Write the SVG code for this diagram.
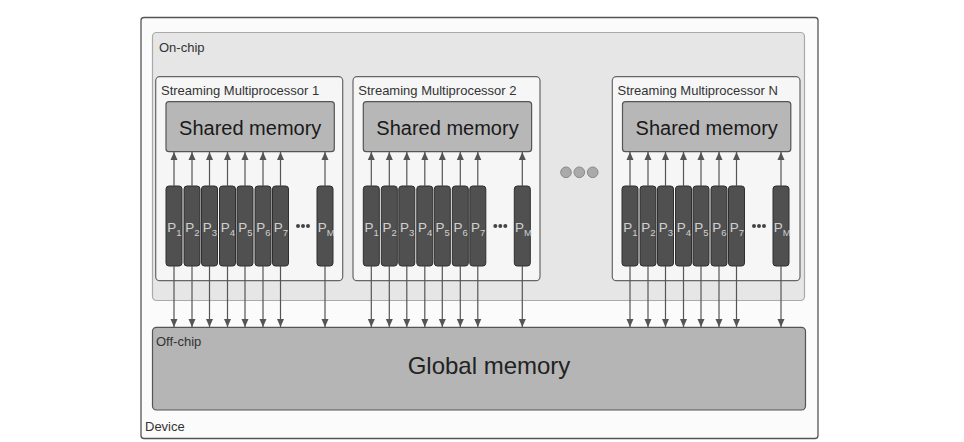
<svg xmlns="http://www.w3.org/2000/svg" width="964" height="442" viewBox="0 0 964 442">
<defs>
<style>
text{font-family:"Liberation Sans",Arial,sans-serif;fill:#222}
.lbl{font-size:13px;fill:#333}
.big{font-size:20px;fill:#1a1a1a}
.sm{fill:#f6f6f6;stroke:#666;stroke-width:1.2}
.shm{fill:#b7b7b7;stroke:#555;stroke-width:1.2}
.pr{fill:#505050;stroke:#2e2e2e;stroke-width:1}
.pt{font-size:13.5px;fill:#d0d0d0}
.ps{font-size:9.5px;fill:#d0d0d0}
.cn{stroke:#555;stroke-width:1.2;fill:none}
.dot{fill:#444}
</style>
<marker id="ah" viewBox="0 0 8 8" refX="8" refY="4" markerWidth="8" markerHeight="8" markerUnits="userSpaceOnUse" orient="auto">
<path d="M0,0.5 L8,4 L0,7.5 z" fill="#555"/>
</marker>
<g id="procs">
<rect class="pr" x="166" y="186" width="16" height="80" rx="3"/>
<rect class="pr" x="184" y="186" width="16" height="80" rx="3"/>
<rect class="pr" x="201.5" y="186" width="16" height="80" rx="3"/>
<rect class="pr" x="219.5" y="186" width="16" height="80" rx="3"/>
<rect class="pr" x="237" y="186" width="16" height="80" rx="3"/>
<rect class="pr" x="255" y="186" width="16" height="80" rx="3"/>
<rect class="pr" x="272.5" y="186" width="16" height="80" rx="3"/>
<rect class="pr" x="317" y="186" width="16" height="80" rx="3"/>
<text class="pt" x="167.3" y="231.5">P<tspan class="ps" dy="4">1</tspan></text>
<text class="pt" x="185.3" y="231.5">P<tspan class="ps" dy="4">2</tspan></text>
<text class="pt" x="202.8" y="231.5">P<tspan class="ps" dy="4">3</tspan></text>
<text class="pt" x="220.8" y="231.5">P<tspan class="ps" dy="4">4</tspan></text>
<text class="pt" x="238.3" y="231.5">P<tspan class="ps" dy="4">5</tspan></text>
<text class="pt" x="256.3" y="231.5">P<tspan class="ps" dy="4">6</tspan></text>
<text class="pt" x="273.8" y="231.5">P<tspan class="ps" dy="4">7</tspan></text>
<text class="pt" x="317.8" y="231.5">P<tspan class="ps" dy="4" font-size="8.5">M</tspan></text>
<circle class="dot" cx="298" cy="226" r="2"/>
<circle class="dot" cx="303" cy="226" r="2"/>
<circle class="dot" cx="308" cy="226" r="2"/>
</g>
</defs>

<g id="device">
<rect x="141" y="17.5" width="677" height="421" rx="3" fill="#fbfbfb" stroke="#555" stroke-width="1.3"/>
<text class="lbl" x="145" y="431">Device</text>
</g>

<g id="on-chip">
<rect x="152.5" y="32.5" width="652" height="268" rx="4" fill="#e6e6e6" stroke="#aaa" stroke-width="1.2"/>
<text class="lbl" x="159" y="52">On-chip</text>
</g>

<g id="sm1">
<rect class="sm" x="155.7" y="76.7" width="187" height="204" rx="4"/>
<text class="lbl" x="161" y="95">Streaming Multiprocessor 1</text>
<rect class="shm" x="166" y="101.7" width="168.3" height="50" rx="3"/>
<text class="big" x="250.2" y="135" text-anchor="middle">Shared memory</text>
<use href="#procs"/>
</g>

<g id="sm2">
<rect class="sm" x="353" y="76.7" width="187" height="204" rx="4"/>
<text class="lbl" x="358.3" y="95">Streaming Multiprocessor 2</text>
<rect class="shm" x="363.3" y="101.7" width="168.3" height="50" rx="3"/>
<text class="big" x="447.5" y="135" text-anchor="middle">Shared memory</text>
<use href="#procs" transform="translate(197.3,0)"/>
</g>

<g id="sm-dots">
<circle cx="566" cy="172.3" r="5.3" fill="#aaa" stroke="#888" stroke-width="1"/>
<circle cx="579.3" cy="172.3" r="5.3" fill="#aaa" stroke="#888" stroke-width="1"/>
<circle cx="592.7" cy="172.3" r="5.3" fill="#aaa" stroke="#888" stroke-width="1"/>
</g>

<g id="smN">
<rect class="sm" x="612.3" y="76.7" width="187.7" height="204" rx="4"/>
<text class="lbl" x="617.5" y="95">Streaming Multiprocessor N</text>
<rect class="shm" x="622.5" y="101.7" width="168.3" height="50" rx="3"/>
<text class="big" x="706.7" y="135" text-anchor="middle">Shared memory</text>
<use href="#procs" transform="translate(456,0)"/>
</g>

<g id="global-memory">
<rect x="152.5" y="327.3" width="653" height="82.7" rx="4" fill="#b5b5b5" stroke="#555" stroke-width="1.2"/>
<text class="lbl" x="156" y="346">Off-chip</text>
<text x="489" y="374" text-anchor="middle" font-size="24" fill="#1a1a1a">Global memory</text>
</g>

<g id="connectors">
<path class="cn" d="M174,186V152" marker-end="url(#ah)"/>
<path class="cn" d="M192,186V152" marker-end="url(#ah)"/>
<path class="cn" d="M209.5,186V152" marker-end="url(#ah)"/>
<path class="cn" d="M227.5,186V152" marker-end="url(#ah)"/>
<path class="cn" d="M245,186V152" marker-end="url(#ah)"/>
<path class="cn" d="M263,186V152" marker-end="url(#ah)"/>
<path class="cn" d="M280.5,186V152" marker-end="url(#ah)"/>
<path class="cn" d="M325,186V152" marker-end="url(#ah)"/>
<path class="cn" d="M371.3,186V152" marker-end="url(#ah)"/>
<path class="cn" d="M389.3,186V152" marker-end="url(#ah)"/>
<path class="cn" d="M406.8,186V152" marker-end="url(#ah)"/>
<path class="cn" d="M424.8,186V152" marker-end="url(#ah)"/>
<path class="cn" d="M442.3,186V152" marker-end="url(#ah)"/>
<path class="cn" d="M460.3,186V152" marker-end="url(#ah)"/>
<path class="cn" d="M477.8,186V152" marker-end="url(#ah)"/>
<path class="cn" d="M522.3,186V152" marker-end="url(#ah)"/>
<path class="cn" d="M630,186V152" marker-end="url(#ah)"/>
<path class="cn" d="M648,186V152" marker-end="url(#ah)"/>
<path class="cn" d="M665.5,186V152" marker-end="url(#ah)"/>
<path class="cn" d="M683.5,186V152" marker-end="url(#ah)"/>
<path class="cn" d="M701,186V152" marker-end="url(#ah)"/>
<path class="cn" d="M719,186V152" marker-end="url(#ah)"/>
<path class="cn" d="M736.5,186V152" marker-end="url(#ah)"/>
<path class="cn" d="M781,186V152" marker-end="url(#ah)"/>
<path class="cn" d="M174,266V327" marker-end="url(#ah)"/>
<path class="cn" d="M192,266V327" marker-end="url(#ah)"/>
<path class="cn" d="M209.5,266V327" marker-end="url(#ah)"/>
<path class="cn" d="M227.5,266V327" marker-end="url(#ah)"/>
<path class="cn" d="M245,266V327" marker-end="url(#ah)"/>
<path class="cn" d="M263,266V327" marker-end="url(#ah)"/>
<path class="cn" d="M280.5,266V327" marker-end="url(#ah)"/>
<path class="cn" d="M325,266V327" marker-end="url(#ah)"/>
<path class="cn" d="M371.3,266V327" marker-end="url(#ah)"/>
<path class="cn" d="M389.3,266V327" marker-end="url(#ah)"/>
<path class="cn" d="M406.8,266V327" marker-end="url(#ah)"/>
<path class="cn" d="M424.8,266V327" marker-end="url(#ah)"/>
<path class="cn" d="M442.3,266V327" marker-end="url(#ah)"/>
<path class="cn" d="M460.3,266V327" marker-end="url(#ah)"/>
<path class="cn" d="M477.8,266V327" marker-end="url(#ah)"/>
<path class="cn" d="M522.3,266V327" marker-end="url(#ah)"/>
<path class="cn" d="M630,266V327" marker-end="url(#ah)"/>
<path class="cn" d="M648,266V327" marker-end="url(#ah)"/>
<path class="cn" d="M665.5,266V327" marker-end="url(#ah)"/>
<path class="cn" d="M683.5,266V327" marker-end="url(#ah)"/>
<path class="cn" d="M701,266V327" marker-end="url(#ah)"/>
<path class="cn" d="M719,266V327" marker-end="url(#ah)"/>
<path class="cn" d="M736.5,266V327" marker-end="url(#ah)"/>
<path class="cn" d="M781,266V327" marker-end="url(#ah)"/>
</g>
</svg>
